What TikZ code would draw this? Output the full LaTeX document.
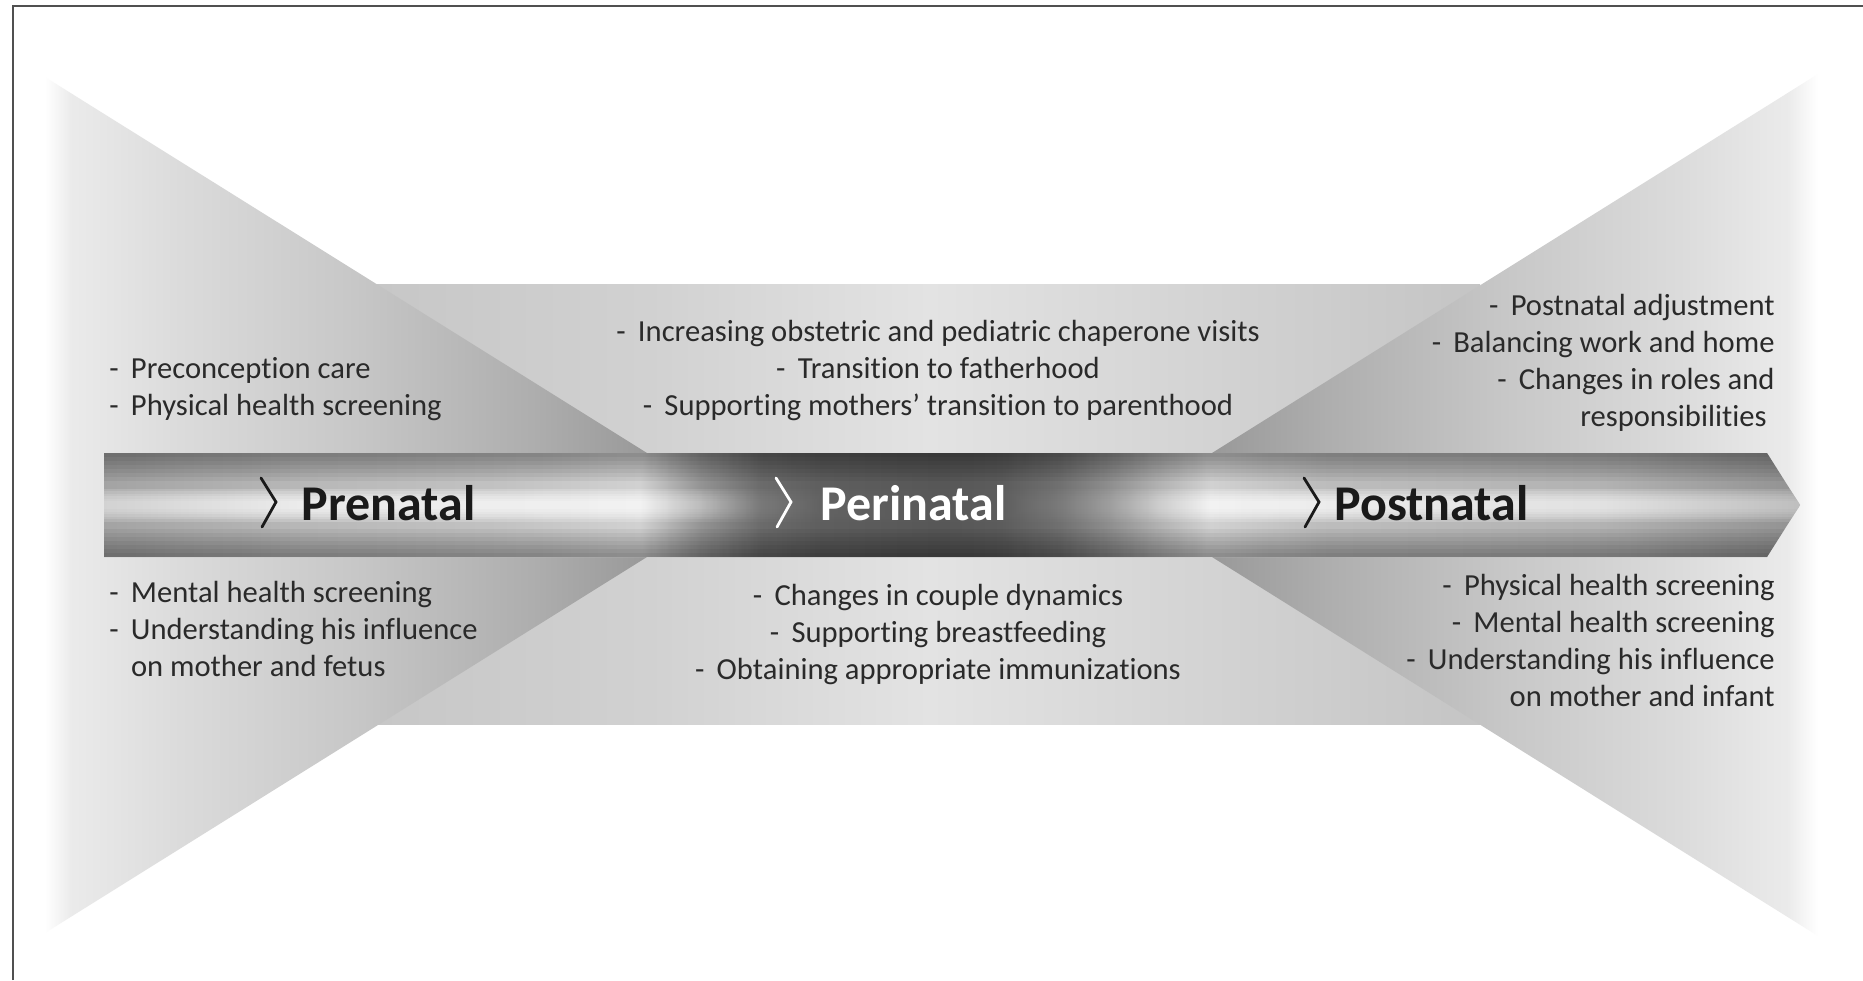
\documentclass[tikz,border=0pt]{standalone}
\usepackage{fontspec}
\setmainfont{Carlito}[Ligatures=NoCommon]
\definecolor{txtc}{HTML}{2A2A2A}
\definecolor{labc}{HTML}{1A1A1A}
\definecolor{framec}{HTML}{505050}

\pgfdeclarehorizontalshading{barbase}{100bp}{color(0bp)=(white!64!black); color(25bp)=(white!64!black); color(30.78bp)=(white!72!black); color(36.67bp)=(white!76!black); color(40.8bp)=(white!82!black); color(42.57bp)=(white!58!black); color(44.34bp)=(white!42!black); color(46.1bp)=(white!37!black); color(49.65bp)=(white!34!black); color(51.42bp)=(white!36!black); color(53.18bp)=(white!44!black); color(54.66bp)=(white!56!black); color(56.13bp)=(white!70!black); color(57.61bp)=(white!82!black); color(60.85bp)=(white!74!black); color(69.1bp)=(white!70!black); color(75bp)=(white!57!black); color(100bp)=(white!57!black)}

\pgfdeclarehorizontalshading{streaksh}{100bp}{color(0bp)=(white!90!black); color(25bp)=(white!90!black); color(30.78bp)=(white); color(36.67bp)=(white); color(40.8bp)=(white); color(42.57bp)=(white!80!black); color(44.34bp)=(white!50!black); color(46.1bp)=(white!40!black); color(49.65bp)=(white!36!black); color(51.42bp)=(white!38!black); color(53.18bp)=(white!50!black); color(54.66bp)=(white!65!black); color(56.13bp)=(white!85!black); color(57.61bp)=(white); color(60.85bp)=(white); color(69.1bp)=(white!96!black); color(75bp)=(white!82!black); color(100bp)=(white!82!black)}

\pgfdeclarehorizontalshading{wedgeL}{100bp}{color(0bp)=(white); color(25bp)=(white); color(27.16bp)=(white!92!black); color(36.05bp)=(white!86!black); color(50.83bp)=(white!78!black); color(65.7bp)=(white!68!black); color(75bp)=(white!60!black); color(100bp)=(white!60!black)}

\pgfdeclarehorizontalshading{wedgeR}{100bp}{color(0bp)=(white!60!black); color(25bp)=(white!60!black); color(34.24bp)=(white!68!black); color(49bp)=(white!78!black); color(63.7bp)=(white!86!black); color(72.5bp)=(white!92!black); color(75bp)=(white); color(100bp)=(white)}

\pgfdeclarehorizontalshading{bandsh}{100bp}{color(0bp)=(white!78!black); color(25bp)=(white!78!black); color(37.44bp)=(white!82!black); color(50.1bp)=(white!89!black); color(62.33bp)=(white!83!black); color(75bp)=(white!77!black); color(100bp)=(white!77!black)}

\newcommand\barpath{(104,453) -- (1767,453) -- (1800,505) -- (1767,557) -- (104,557) -- cycle}
\newcommand\bdash{-\hspace{0.4em}}
\newcommand\blkL[1]{\vtop{\baselineskip=18.5pt\lineskiplimit=-20pt\halign{##\hfil\cr#1\crcr}}}
\newcommand\blkR[1]{\vtop{\baselineskip=18.5pt\lineskiplimit=-20pt\halign{\hfil##\cr#1\crcr}}}
\newcommand\blkC[1]{\vtop{\baselineskip=18.5pt\lineskiplimit=-20pt\halign{\hfil##\hfil\cr#1\crcr}}}

\begin{document}
\begin{tikzpicture}[x=0.5pt,y=-0.5pt,
  txt/.style={font=\fontsize{15.3}{18.5}\selectfont, text=txtc, inner sep=0pt},
  lab/.style={font=\fontsize{25}{30}\selectfont\bfseries, inner sep=0pt},
  chev/.style={line width=1.4pt, line cap=round, line join=miter},
  edgedark/.style={fill=black, fill opacity=0.05},
  streakstrip/.style={shading=streaksh, fill opacity=0.2}]
\useasboundingbox (0,0) rectangle (1863,980);
\fill[white] (0,0) rectangle (1863,980);
% frame
\draw[framec, line width=1pt] (13,980) -- (13,6) -- (1863,6);
% central band
\shade[shading=bandsh] (375,284) rectangle (1480,724);
% wedges
\shade[shading=wedgeL] (45,77) -- (647,453) -- (647,557) -- (45,933) -- cycle;
\shade[shading=wedgeR] (1818,74) -- (1212,453) -- (1212,557) -- (1818,936) -- cycle;
% arrow bar
\shade[shading=barbase] \barpath;
\begin{scope}
  \clip \barpath;
  \foreach \i in {1,...,7} {
    \fill[edgedark] (104,453) rectangle (1800,{453+4*\i});
    \fill[edgedark] (104,557) rectangle (1800,{557-4*\i});
  }
  \foreach \i in {1,...,6} {
    \shade[streakstrip] (104,{505-2.5*\i-1}) rectangle (1800,{505+2.5*\i+1});
  }
\end{scope}
% chevrons
\draw[chev, labc] (261,478) -- (276,502) -- (262,527);
\draw[chev, white] (776,478) -- (791,502) -- (777,527);
\draw[chev, labc] (1304,478) -- (1319,502) -- (1305,527);
% labels
\node[lab, text=labc, anchor=base west] (pre) at (301,520) {Prenatal};
\node[lab, text=white, anchor=base west] (peri) at (820,520) {Perinatal};
\node[lab, text=labc, anchor=base west] (post) at (1334,520) {Postnatal};
% text blocks
\node[txt, anchor=base west] (preTop) at (109,378) {\blkL{\bdash Preconception care\cr \bdash Physical health screening}};
\node[txt, anchor=base west] (preBot) at (109,602) {\blkL{\bdash Mental health screening\cr \bdash Understanding his influence\cr \phantom{\bdash}on mother and fetus}};
\node[txt, anchor=base] (periTop) at (938,341) {\blkC{\bdash Increasing obstetric and pediatric chaperone visits\cr \bdash Transition to fatherhood\cr \bdash Supporting mothers' transition to parenthood}};
\node[txt, anchor=base] (periBot) at (938,605) {\blkC{\bdash Changes in couple dynamics\cr \bdash Supporting breastfeeding\cr \bdash Obtaining appropriate immunizations}};
\node[txt, anchor=base east] (postTop) at (1775,315) {\blkR{\bdash Postnatal adjustment\cr \bdash Balancing work and home\cr \bdash Changes in roles and\cr responsibilities\hspace{4pt}}};
\node[txt, anchor=base east] (postBot) at (1775,595) {\blkR{\bdash Physical health screening\cr \bdash Mental health screening\cr \bdash Understanding his influence\cr on mother and infant}};
\end{tikzpicture}
\end{document}
